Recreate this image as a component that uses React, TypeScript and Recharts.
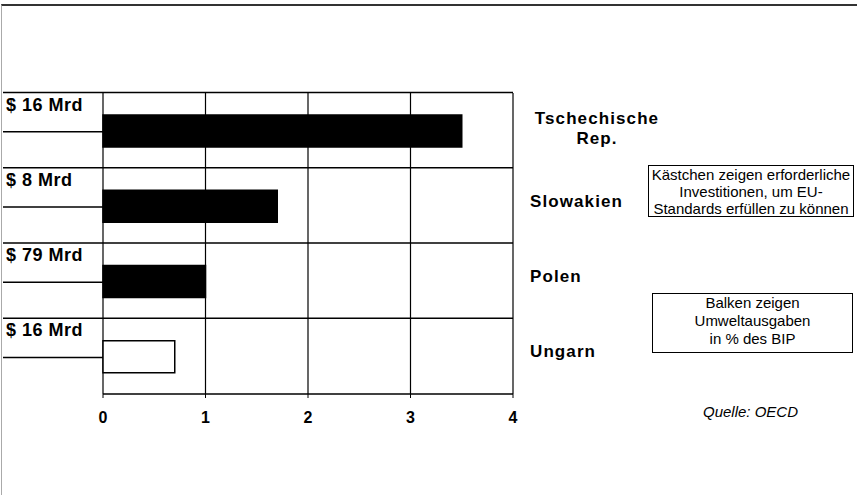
import React from 'react';
import { BarChart, Bar, XAxis, YAxis, CartesianGrid, Cell } from 'recharts';

const categories = ['Tschechische Rep.', 'Slowakien', 'Polen', 'Ungarn'];
const spending = [3.5, 1.7, 1.0, 0.7];
const investments = [16, 8, 79, 16];
const xTicks = [0, 1, 2, 3, 4];

const W = 857;
const H = 495;
const TOP = 93;
const LEFT_W = 103;
const RIGHT_W = 344;
const BOTTOM_H = 101;
const HALF_BAND = (H - TOP - BOTTOM_H) / categories.length / 2;
const FONT = '"Liberation Sans", Arial, sans-serif';

const data = categories.map((name, i) => ({
  name,
  value: spending[i],
  invest: investments[i],
}));

const LeftTick = (props: any) => {
  const { y, payload } = props;
  const row = data.find((d) => d.name === payload.value);
  const top = y - HALF_BAND - 0.5;
  const bottom = y + 1;
  return (
    <g>
      <line x1={3} x2={W - RIGHT_W} y1={top} y2={top} stroke="#000" strokeWidth={1.5} />
      <line x1={3} x2={LEFT_W} y1={bottom} y2={bottom} stroke="#000" strokeWidth={1.5} />
      <text x={6} y={y - 20} fontFamily={FONT} fontSize={18} fontWeight="bold" fill="#000" letterSpacing={0.5}>
        {`$ ${row ? row.invest : ''} Mrd`}
      </text>
    </g>
  );
};

const RightTick = (props: any) => {
  const { y, payload } = props;
  const label: string = payload.value;
  const style = { fontFamily: FONT, fontSize: 17, fontWeight: 'bold' as const, fill: '#000', letterSpacing: 1.1 };
  if (label.length > 12) {
    const parts = label.split(' ');
    return (
      <g>
        <text x={597} y={y - 7} textAnchor="middle" {...style}>{parts[0]}</text>
        <text x={597} y={y + 13} textAnchor="middle" {...style}>{parts.slice(1).join(' ')}</text>
      </g>
    );
  }
  return (
    <text x={530} y={y + 1} {...style}>{label}</text>
  );
};

export default function App() {
  return (
    <div style={{ position: 'absolute', left: 0, top: 0, width: W, height: H, background: '#fff', fontFamily: FONT }}>
      <div style={{ position: 'absolute', left: 1, top: 4, width: W - 1, height: H - 4, borderTop: '2px solid #333', borderLeft: '1px solid #aaa', boxSizing: 'border-box' }} />
      <BarChart
        layout="vertical"
        width={W}
        height={H}
        data={data}
        margin={{ top: TOP, right: 0, left: 0, bottom: 0 }}
        barCategoryGap={0}
      >
        <CartesianGrid horizontal={false} vertical={true} stroke="#000" strokeWidth={1.2} />
        <XAxis
          type="number"
          domain={[0, 4]}
          ticks={xTicks}
          height={BOTTOM_H}
          axisLine={{ stroke: '#000', strokeWidth: 1.5 }}
          tickLine={{ stroke: '#000' }}
          tickSize={4}
          tickMargin={14}
          tick={{ fontFamily: FONT, fontSize: 16, fontWeight: 'bold', fill: '#000' }}
        />
        <YAxis
          yAxisId="left"
          type="category"
          dataKey="name"
          width={LEFT_W}
          axisLine={false}
          tickLine={false}
          tick={<LeftTick />}
          interval={0}
        />
        <YAxis
          yAxisId="right"
          orientation="right"
          type="category"
          dataKey="name"
          width={RIGHT_W}
          axisLine={false}
          tickLine={false}
          tick={<RightTick />}
          interval={0}
        />
        <Bar dataKey="value" yAxisId="left" barSize={32} isAnimationActive={false} stroke="#000" strokeWidth={1.5}>
          {data.map((d, i) => (
            <Cell key={`c-${i}`} fill={i === data.length - 1 ? '#fff' : '#000'} />
          ))}
        </Bar>
      </BarChart>
      <div style={{ position: 'absolute', left: 648, top: 165, width: 206, height: 52, border: '1px solid #000', boxSizing: 'border-box', fontSize: 15, lineHeight: '17px', textAlign: 'center', whiteSpace: 'nowrap', color: '#000' }}>
        Kästchen zeigen erforderliche<br />Investitionen, um EU-<br />Standards erfüllen zu können
      </div>
      <div style={{ position: 'absolute', left: 652, top: 293, width: 201, height: 60, border: '1px solid #000', boxSizing: 'border-box', fontSize: 15, lineHeight: '18px', textAlign: 'center', whiteSpace: 'nowrap', color: '#000' }}>
        Balken zeigen<br />Umweltausgaben<br />in % des BIP
      </div>
      <div style={{ position: 'absolute', left: 703, top: 404, fontSize: 15, lineHeight: '15px', fontStyle: 'italic', color: '#000' }}>
        Quelle: OECD
      </div>
    </div>
  );
}
